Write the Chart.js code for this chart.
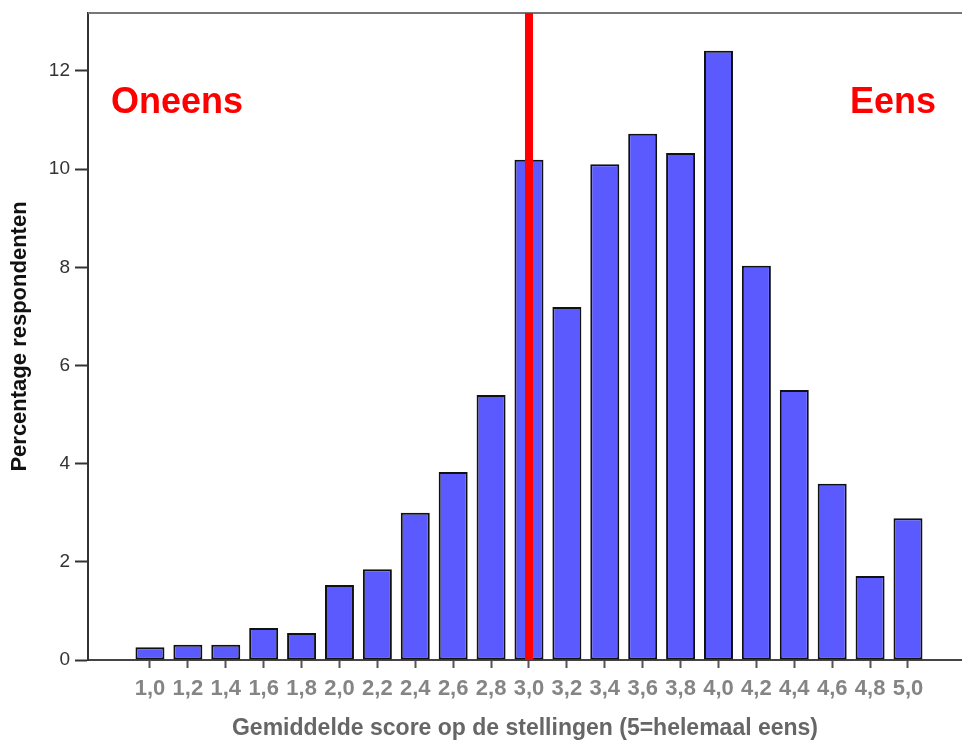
<!DOCTYPE html>
<html>
<head>
<meta charset="utf-8">
<script src="https://cdn.jsdelivr.net/npm/chart.js@4/dist/chart.umd.min.js"></script>
<style>
  html, body { margin: 0; padding: 0; background: #fff; overflow: hidden; }
  #wrap { width: 962px; height: 742px; position: relative; }
</style>
</head>
<body>
<div id="wrap"><canvas id="c"></canvas></div>
<script>
// Categories (mean score) and values (percentage of respondents)
const scores = [1.0, 1.2, 1.4, 1.6, 1.8, 2.0, 2.2, 2.4, 2.6, 2.8, 3.0, 3.2, 3.4, 3.6, 3.8, 4.0, 4.2, 4.4, 4.6, 4.8, 5.0];
const tickLabels = ["1,0", "1,2", "1,4", "1,6", "1,8", "2,0", "2,2", "2,4", "2,6", "2,8", "3,0", "3,2", "3,4", "3,6", "3,8", "4,0", "4,2", "4,4", "4,6", "4,8", "5,0"];
const percentages = [0.26, 0.31, 0.31, 0.65, 0.55, 1.53, 1.85, 3.0, 3.83, 5.4, 10.19, 7.19, 10.1, 10.72, 10.33, 12.41, 8.03, 5.5, 3.59, 1.71, 2.89];
const yTicks = [0, 2, 4, 6, 8, 10, 12];
const midpoint = 3.0;
const leftText = "Oneens";
const rightText = "Eens";
const xTitle = "Gemiddelde score op de stellingen (5=helemaal eens)";
const yTitle = "Percentage respondenten";

const overlay = {
  id: 'overlay',
  afterDatasetsDraw(chart) {
    const {ctx, chartArea, scales} = chart;
    ctx.save();
    // top frame line
    ctx.strokeStyle = '#777';
    ctx.lineWidth = 2;
    ctx.beginPath();
    ctx.moveTo(chartArea.left, chartArea.top);
    ctx.lineTo(chartArea.right + 10, chartArea.top);
    ctx.stroke();
    // red midpoint line
    const xm = scales.x.getPixelForValue(midpoint);
    ctx.fillStyle = '#ff0000';
    ctx.fillRect(xm - 4, chartArea.top, 8, chartArea.bottom - chartArea.top);
    // labels
    ctx.font = 'bold 36px "Liberation Sans", Arial, sans-serif';
    ctx.fillStyle = '#ff0000';
    ctx.textBaseline = 'alphabetic';
    ctx.textAlign = 'left';
    ctx.fillText(leftText, chartArea.left + 23, 113);
    ctx.textAlign = 'right';
    ctx.fillText(rightText, 936, 113);
    ctx.restore();
  }
};

new Chart(document.getElementById('c'), {
  type: 'bar',
  data: {
    datasets: [{
      data: scores.map((s, i) => ({x: s, y: percentages[i]})),
      backgroundColor: '#5a5aff',
      borderColor: '#111111',
      borderWidth: 2,
      borderSkipped: false,
      barPercentage: 0.765,
      categoryPercentage: 1.0
    }]
  },
  options: {
    responsive: true,
    maintainAspectRatio: false,
    animation: false,
    layout: { padding: { top: 13, left: 0, right: 0, bottom: 0 } },
    plugins: { legend: { display: false }, tooltip: { enabled: false } },
    scales: {
      x: {
        type: 'linear',
        offset: false,
        min: 0.673,
        max: 5.285,
        afterBuildTicks: s => { s.ticks = scores.map(v => ({value: v})); },
        afterFit: s => { s.height = 82; },
        ticks: {
          callback: (v, i) => tickLabels[i],
          font: { family: '"Liberation Sans", Arial, sans-serif', size: 22, weight: 'bold' },
          color: '#858585',
          padding: 8,
          maxRotation: 0,
          autoSkip: false
        },
        grid: { drawOnChartArea: false, drawTicks: true, tickLength: 8, tickColor: '#555', tickWidth: 2, offset: false },
        border: { color: '#444', width: 2 },
        title: {
          display: true,
          text: xTitle,
          font: { family: '"Liberation Sans", Arial, sans-serif', size: 23, weight: 'bold' },
          color: '#666',
          padding: { top: 0, bottom: 0 }
        }
      },
      y: {
        min: 0,
        max: 13.18,
        afterBuildTicks: s => { s.ticks = yTicks.map(v => ({value: v})); },
        afterFit: s => { s.width = 88; s.paddingTop = 0; s.paddingBottom = 0; },
        ticks: {
          font: { family: '"Liberation Sans", Arial, sans-serif', size: 19 },
          color: '#333',
          padding: 5
        },
        grid: { drawOnChartArea: false, drawTicks: true, tickLength: 13, tickColor: '#333', tickWidth: 2 },
        border: { color: '#333', width: 2 },
        title: {
          display: true,
          text: yTitle,
          font: { family: '"Liberation Sans", Arial, sans-serif', size: 22, weight: 'bold' },
          color: '#111',
          padding: { top: 7, bottom: 0 }
        }
      }
    }
  },
  plugins: [overlay]
});
</script>
</body>
</html>
